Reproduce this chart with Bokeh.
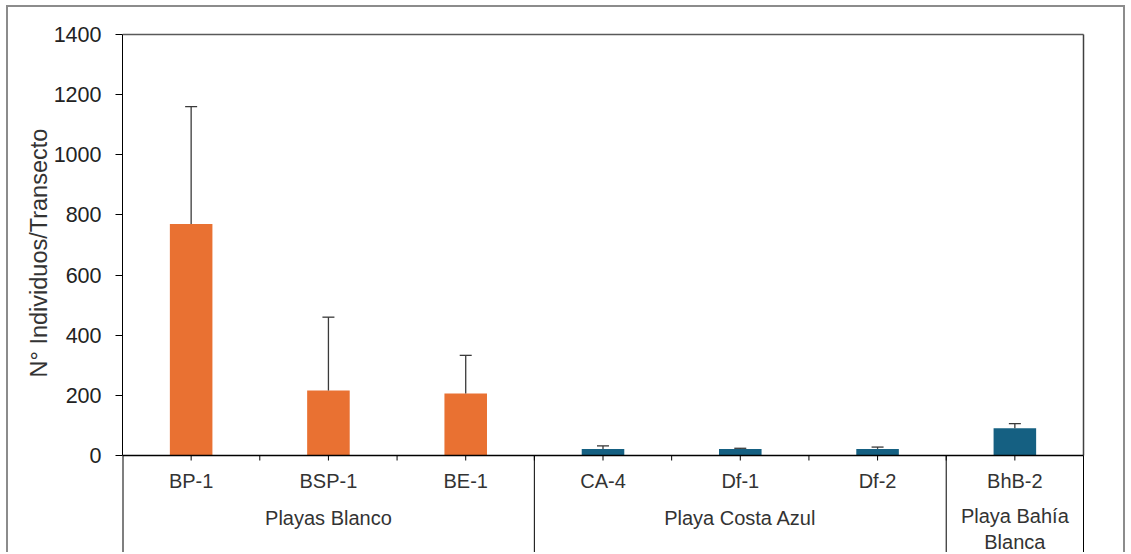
from bokeh.plotting import figure
from bokeh.models import Range1d, LinearAxis, FixedTicker, ColumnDataSource, Title
from bokeh.core.properties import value
from bokeh.embed import file_html
from bokeh.resources import INLINE

# Sampling transects, grouped by beach
transects = ["BP-1", "BSP-1", "BE-1", "CA-4", "Df-1", "Df-2", "BhB-2"]
beaches = ["Playas Blanco", "Playa Costa Azul", "Playa Bahía\nBlanca"]
beach_sizes = [3, 3, 1]
beach_colors = ["#E97132", "#156082", "#156082"]

# Mean individuals per transect and standard deviation (upper bar only)
mean_ind = [770, 216, 206, 22, 22, 22, 91]
sd_ind = [390, 244, 127, 10, 2, 6, 15]

y_ticks = [0, 200, 400, 600, 800, 1000, 1200, 1400]
y_title = "N° Individuos/Transecto"

FONT = "Liberation Sans"
TXT = "#333333"

# Pixel geometry of the drawing area
px_per_unit = 421 / 1400.0
y_min = -99 / px_per_unit
y_max = 1400 + 2 / px_per_unit
x_max = 7 + 3 / 137.3

p = figure(width=1119, height=547,
           x_range=Range1d(0, x_max), y_range=Range1d(y_min, y_max),
           x_axis_type=None, y_axis_type=None,
           output_backend="svg", toolbar_location=None,
           min_border_left=114, min_border_right=41,
           min_border_top=25, min_border_bottom=0)
p.outline_line_color = None
p.grid.visible = False
p.background_fill_color = "white"
p.border_fill_color = "white"
p.styles = {"margin-left": "6px", "margin-top": "5px",
            "border-style": "solid", "border-color": "#8c8c8c",
            "border-width": "2px 2px 0px 2px"}

yaxis = LinearAxis(ticker=FixedTicker(ticks=y_ticks), bounds=(0, 1400))
yaxis.axis_line_color = "black"
yaxis.axis_line_width = 1
yaxis.major_tick_out = 7
yaxis.major_tick_in = 0
yaxis.major_tick_line_color = "black"
yaxis.minor_tick_line_color = None
yaxis.major_label_standoff = 14
yaxis.major_label_text_font = FONT
yaxis.major_label_text_font_size = "21.5px"
yaxis.major_label_text_color = "#222222"
p.add_layout(yaxis, "left")

# Axis title, placed beside the value range of the axis
p.add_layout(Title(text=y_title, align="left", offset=177, standoff=-3,
                   text_font=FONT, text_font_size="23.5px",
                   text_font_style="normal", text_color=TXT), "left")

# Bars
n = len(transects)
xc = [i + 0.5 for i in range(n)]
bar_colors = []
for g, size in enumerate(beach_sizes):
    bar_colors += [beach_colors[g]] * size
src = ColumnDataSource(dict(x=xc, top=mean_ind, color=bar_colors,
                            hi=[m + s for m, s in zip(mean_ind, sd_ind)]))
p.vbar(x="x", top="top", bottom=0, width=0.31, fill_color="color",
       line_color=None, source=src)

# Error bars (plus direction)
cap = 6 / 137.3
p.segment(x0="x", y0="top", x1="x", y1="hi", line_color="#3a3a3a",
          line_width=1.3, source=src)
p.segment(x0=[x - cap for x in xc], y0=src.data["hi"],
          x1=[x + cap for x in xc], y1=src.data["hi"],
          line_color="#3a3a3a", line_width=1.3)

# Frame: top and right edges
p.segment(x0=[0], y0=[1400], x1=[7], y1=[1400], line_color="#595959", line_width=1.5)
p.segment(x0=[7], y0=[1400], x1=[7], y1=[0], line_color="#404040", line_width=1.5)

# Category axis along y=0
p.segment(x0=[0], y0=[0], x1=[7], y1=[0], line_color="black", line_width=1.3)
tick_len = 5 / px_per_unit
tick_x = [i * 0.5 for i in range(1, 2 * n)]
p.segment(x0=tick_x, y0=[0] * len(tick_x), x1=tick_x, y1=[-tick_len] * len(tick_x),
          line_color="black", line_width=1)

# Group separators below the axis
bounds = [0]
for s in beach_sizes:
    bounds.append(bounds[-1] + s)
p.segment(x0=bounds, y0=[0] * len(bounds), x1=bounds, y1=[y_min] * len(bounds),
          line_color="black", line_width=[2] + [1] * (len(bounds) - 1))

# Transect labels
p.text(x=xc, y=[-25 / px_per_unit] * n, text=transects,
       text_font=value(FONT), text_font_size="20px", text_color=TXT,
       text_align="center", text_baseline="middle")

# Beach labels, centred under their transects
line_px = 23.5
gx, gy = [], []
for g, name in enumerate(beaches):
    gx.append((bounds[g] + bounds[g + 1]) / 2)
    nl = name.count("\n") + 1
    gy.append(-(62 + (nl - 1) * line_px / 2) / px_per_unit)
p.text(x=gx, y=gy, text=beaches,
       text_font=value(FONT), text_font_size="20px", text_color=TXT,
       text_align="center", text_baseline="middle", text_line_height=1.175)

open("out.html", "w").write(file_html(p, INLINE))
